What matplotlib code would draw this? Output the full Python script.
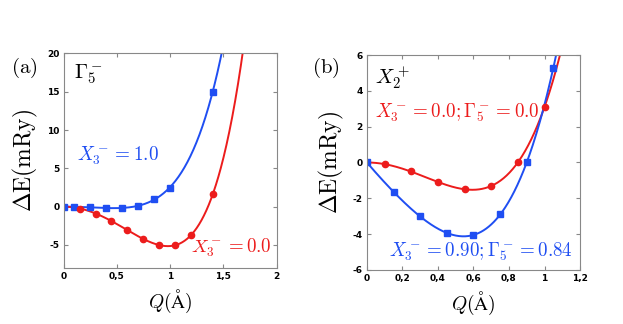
import numpy as np
import matplotlib
matplotlib.use("Agg")
import matplotlib.pyplot as plt
from matplotlib.ticker import FuncFormatter

plt.rcParams['mathtext.fontset'] = 'cm'

# panel (a): Gamma5- mode
a_blue_q = [0, 0.1, 0.25, 0.4, 0.55, 0.7, 0.85, 1.0, 1.4]
a_blue_e = [0, 0, -0.1, -0.2, -0.2, 0.1, 1.0, 2.5, 15.0]
a_red_q = [0.15, 0.3, 0.45, 0.6, 0.75, 0.9, 1.05, 1.2, 1.4]
a_red_e = [-0.3, -0.9, -1.9, -3.1, -4.2, -5.0, -5.0, -3.7, 1.6]

# panel (b): X2+ mode
b_red_q = [0, 0.1, 0.25, 0.4, 0.55, 0.7, 0.85, 1.0]
b_red_e = [0, -0.1, -0.5, -1.1, -1.5, -1.3, 0.0, 3.1]
b_blue_q = [0, 0.15, 0.3, 0.45, 0.6, 0.75, 0.9, 1.05]
b_blue_e = [0, -1.65, -3.0, -3.95, -4.05, -2.9, 0.0, 5.3]

BLUE = '#1f4ef2'
RED = '#ec1c1c'


def fit_curve(q, e, powers, qmax):
    q = np.asarray(q, float)
    e = np.asarray(e, float)
    A = np.column_stack([q ** p for p in powers])
    coef = np.linalg.lstsq(A, e, rcond=None)[0]
    qq = np.linspace(0, qmax, 400)
    return qq, sum(c * qq ** p for c, p in zip(coef, powers))


def comma(x, pos):
    return ('%g' % x).replace('.', ',')


def style(ax):
    for s in ax.spines.values():
        s.set_color('#888888')
        s.set_linewidth(0.8)
    ax.tick_params(direction='in', top=True, right=True, length=3,
                   color='#888888', labelsize=6.5, pad=3)
    for lab in ax.get_xticklabels() + ax.get_yticklabels():
        lab.set_fontweight('bold')
    ax.xaxis.set_major_formatter(FuncFormatter(comma))
    ax.yaxis.set_major_formatter(FuncFormatter(comma))
    ax.set_ylabel(r'$\Delta\mathrm{E(mRy)}$', fontsize=17, labelpad=5)
    ax.set_xlabel(r'$Q(\mathrm{\AA})$', fontsize=14, labelpad=5)


fig = plt.figure(figsize=(6.23, 3.24), dpi=100)

# (a)
ax1 = fig.add_axes([0.102, 0.173, 0.342, 0.662])
qq, ee = fit_curve(a_blue_q, a_blue_e, [2, 4, 6], 1.6)
ax1.plot(qq, ee, color=BLUE, lw=1.4)
qq, ee = fit_curve(a_red_q, a_red_e, [2, 4, 6], 1.8)
ax1.plot(qq, ee, color=RED, lw=1.4)
ax1.plot(a_blue_q, a_blue_e, 's', color=BLUE, ms=4.5)
ax1.plot(a_red_q, a_red_e, 'o', color=RED, ms=4.5)
ax1.set_xlim(0, 2)
ax1.set_ylim(-8, 20)
ax1.set_xticks([0, 0.5, 1, 1.5, 2])
ax1.set_yticks([-5, 0, 5, 10, 15, 20])
style(ax1)
ax1.text(0.13, 6.7, r'$X_3^- = 1.0$', color=BLUE, fontsize=13.8, va='center')
ax1.text(1.2, -5.4, r'$X_3^- = 0.0$', color=RED, fontsize=13.6, va='center')
ax1.text(0.1, 17.3, r'$\Gamma_5^-$', color='black', fontsize=15, va='center')
fig.text(0.017, 0.79, r'$\mathrm{(a)}$', fontsize=15, va='center')

# (b)
ax2 = fig.add_axes([0.589, 0.167, 0.342, 0.663])
qq, ee = fit_curve(b_red_q, b_red_e, [2, 3, 4, 5], 1.15)
ax2.plot(qq, ee, color=RED, lw=1.4)
qq, ee = fit_curve(b_blue_q, b_blue_e, [1, 2, 3, 4, 5], 1.15)
ax2.plot(qq, ee, color=BLUE, lw=1.4)
ax2.plot(b_red_q[1:], b_red_e[1:], 'o', color=RED, ms=4.5)
ax2.plot(b_blue_q, b_blue_e, 's', color=BLUE, ms=4.5)
ax2.set_xlim(0, 1.2)
ax2.set_ylim(-6, 6)
ax2.set_xticks([0, 0.2, 0.4, 0.6, 0.8, 1, 1.2])
ax2.set_yticks([-6, -4, -2, 0, 2, 4, 6])
style(ax2)
ax2.text(0.045, 2.8, r'$X_3^- = 0.0; \Gamma_5^- = 0.0$', color=RED,
         fontsize=13.7, va='center')
ax2.text(0.125, -4.95, r'$X_3^- = 0.90; \Gamma_5^- = 0.84$', color=BLUE,
         fontsize=13.7, va='center')
ax2.text(0.045, 4.75, r'$X_2^+$', color='black', fontsize=15, va='center')
fig.text(0.5, 0.79, r'$\mathrm{(b)}$', fontsize=15, va='center')

fig.savefig('out.png', dpi=100)
